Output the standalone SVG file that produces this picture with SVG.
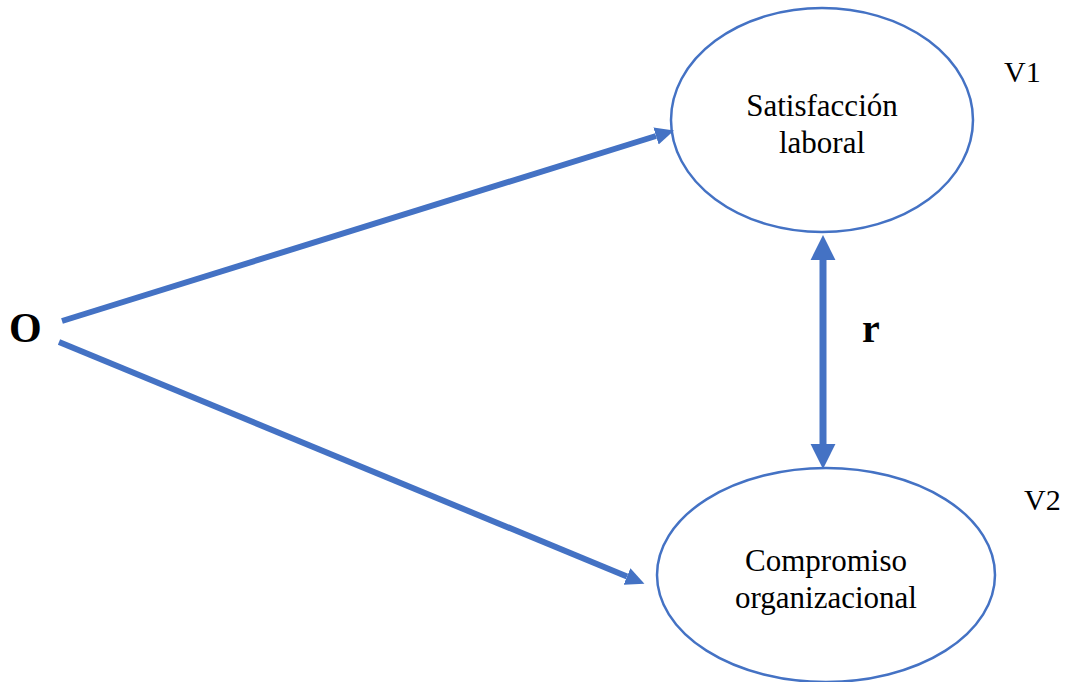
<svg xmlns="http://www.w3.org/2000/svg" width="1066" height="682" viewBox="0 0 1066 682">
<style>
.node{fill:#fff;stroke:#4472C4;stroke-width:2.5}
.t{font-family:"Liberation Serif","Times New Roman",serif;fill:#000;text-anchor:middle}
.lbl{font-family:"Liberation Serif","Times New Roman",serif;fill:#000}
.c{stroke:#4472C4;fill:none}
</style>
<defs>
<marker id="ah" markerUnits="userSpaceOnUse" markerWidth="20" markerHeight="20" viewBox="0 -9 18 18" refX="0" refY="0" orient="auto"><path d="M0,-8 L17,0 L0,8 z" fill="#4472C4"/></marker>
<marker id="ahb" markerUnits="userSpaceOnUse" markerWidth="26" markerHeight="26" viewBox="0 -12 24 24" refX="0" refY="0" orient="auto-start-reverse"><path d="M0,-11.5 L23,0 L0,11.5 z" fill="#4472C4"/></marker>
</defs>
<rect width="1066" height="682" fill="#fff"/>
<g id="v1">
<ellipse class="node" cx="822" cy="120" rx="151" ry="112"/>
<text class="t" font-size="31" x="822" y="116">Satisfacción</text>
<text class="t" font-size="31" x="822" y="153">laboral</text>
</g>
<g id="v2">
<ellipse class="node" cx="826" cy="575" rx="169" ry="107"/>
<text class="t" font-size="31" x="826" y="571">Compromiso</text>
<text class="t" font-size="31" x="826" y="608">organizacional</text>
</g>
<g id="o"><text class="lbl" font-size="42" font-weight="bold" x="9" y="342">O</text></g>
<g id="labels">
<text class="lbl" font-size="30" x="1004" y="82">V1</text>
<text class="lbl" font-size="30" x="1024" y="510">V2</text>
<text class="lbl" font-size="40" font-weight="bold" x="862" y="342">r</text>
</g>
<g id="connectors">
<line class="c" stroke-width="6" x1="62" y1="321" x2="656" y2="136" marker-end="url(#ah)"/>
<line class="c" stroke-width="6" x1="59" y1="342" x2="627" y2="576.5" marker-end="url(#ah)"/>
<line class="c" stroke-width="7" x1="823" y1="260" x2="823" y2="444" marker-start="url(#ahb)" marker-end="url(#ahb)"/>
</g>
</svg>
